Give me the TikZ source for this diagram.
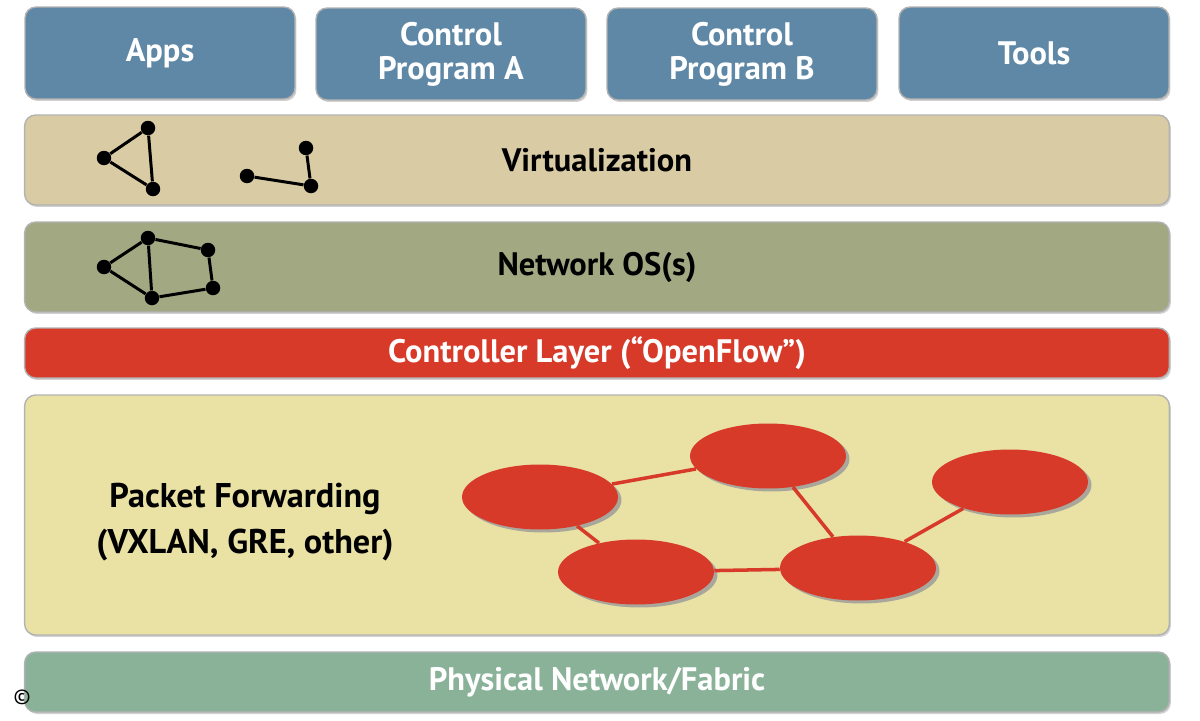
\documentclass[tikz,border=0pt]{standalone}
\usepackage{fontspec}
\setmainfont{PT Sans}
\usetikzlibrary{shapes.geometric}
\usetikzlibrary{shadows}
\definecolor{appblue}{HTML}{5F88A6}
\definecolor{virttan}{HTML}{D9CBA3}
\definecolor{osgreen}{HTML}{A1A882}
\definecolor{ctlred}{HTML}{D83A2A}
\definecolor{fwdyellow}{HTML}{E9E2A4}
\definecolor{physgreen}{HTML}{8AB299}
\tikzset{%
  layer/.style = {rectangle,rounded corners=0.22cm,draw=gray!60,line width=0.8pt,
        inner sep=0pt,align=center,font=\bfseries\fontsize{18.5}{19.5}\selectfont,
        drop shadow={shadow xshift=0.03cm,shadow yshift=-0.04cm,fill=gray!60,opacity=0.6}},
  app/.style = {layer,fill=appblue,text=white,minimum width=5.4cm,
        minimum height=1.84cm},
  band/.style = {layer,minimum width=22.9cm},
  dot/.style = {circle,fill=black,inner sep=0pt,minimum size=0.29cm},
  link/.style = {line width=1.7pt},
  sw/.style = {ellipse,fill=ctlred,inner sep=0pt,minimum width=3.12cm,
        minimum height=1.3cm,
        drop shadow={shadow xshift=0.07cm,shadow yshift=-0.06cm,fill=gray!80,opacity=0.8}},
  swlink/.style = {draw=ctlred,line width=2pt}
}

\begin{document}
\begin{tikzpicture}[x=0.02cm,y=-0.02cm]
    \useasboundingbox (0,0) rectangle (1200,720);
    % top row
    \node[app] (apps) at (160,53) {Apps};
    \node[app] (cpa) at (451,54) {Control\\Program A};
    \node[app] (cpb) at (742,54) {Control\\Program B};
    \node[app] (tools) at (1034,53) {Tools};
    % layers
    \node[band,fill=virttan,minimum height=1.8cm] (virt) at (597,160) {Virtualization};
    \node[band,fill=osgreen,minimum height=1.8cm] (nos) at (597,267) {Network OS(s)};
    \node[band,fill=ctlred,text=white,minimum height=1cm] (ctl) at (597,353)
        {Controller Layer (\textquotedblleft OpenFlow\textquotedblright)};
    \node[band,fill=fwdyellow,minimum height=4.8cm] (fwd) at (597,515) {};
    \node[band,fill=physgreen,text=white,minimum height=1.2cm] (phys) at (597,682)
        {Physical Network/Fabric};
    \node[align=center,font=\bfseries\fontsize{19.5}{26}\selectfont] (fwdtext) at (245,522)
        {Packet Forwarding\\(VXLAN, GRE, other)};
    % virtual networks
    \node[dot] (v1) at (148,128) {};
    \node[dot] (v2) at (104,158) {};
    \node[dot] (v3) at (153,189) {};
    \node[dot] (v4) at (247,176) {};
    \node[dot] (v5) at (311,186) {};
    \node[dot] (v6) at (306,148) {};
    \draw[link] (v1) -- (v2) -- (v3) -- (v1);
    \draw[link] (v4) -- (v5) -- (v6);
    % network os graph
    \node[dot] (n1) at (104,267) {};
    \node[dot] (n2) at (148,238) {};
    \node[dot] (n3) at (208,250) {};
    \node[dot] (n4) at (213,288) {};
    \node[dot] (n5) at (152,298) {};
    \draw[link] (n1) -- (n2) -- (n3) -- (n4) -- (n5) -- (n1);
    \draw[link] (n2) -- (n5);
    % switches
    \node[sw] (s1) at (540,497) {};
    \node[sw] (s2) at (768,456) {};
    \node[sw] (s3) at (1010,482) {};
    \node[sw] (s4) at (636,572) {};
    \node[sw] (s5) at (858,568) {};
    \draw[swlink] (s1) -- (s2);
    \draw[swlink] (s1) -- (s4);
    \draw[swlink] (s2) -- (s5);
    \draw[swlink] (s4) -- (s5);
    \draw[swlink] (s5) -- (s3);
    \node[font=\fontsize{12}{14}\selectfont] (copy) at (22,697) {\textcopyright};
\end{tikzpicture}
\end{document}
